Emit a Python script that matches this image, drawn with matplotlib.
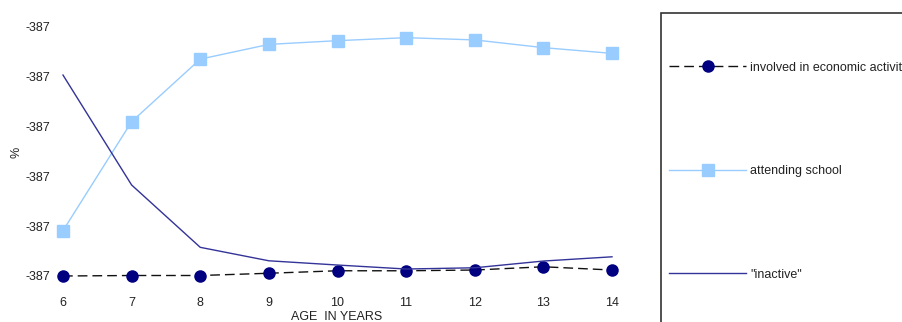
import matplotlib.pyplot as plt
from matplotlib.patches import Rectangle

# dados
idade = [6, 7, 8, 9, 10, 11, 12, 13, 14]
economica = [0.0, 0.2, 0.2, 1.1, 2.1, 2.1, 2.4, 3.7, 2.4]
escola = [18.2, 61.9, 87.0, 92.9, 94.4, 95.6, 94.7, 91.6, 89.3]
inativo = [80.6, 36.5, 11.5, 6.1, 4.4, 2.8, 3.3, 6.0, 7.7]

nomes = ["involved in economic activity", "attending school", '"inactive"']
y_ticks = [0, 20, 40, 60, 80, 100]
y_rotulos = ["-387"] * len(y_ticks)

plt.rcParams['font.family'] = ['Liberation Sans', 'DejaVu Sans']
plt.rcParams['font.size'] = 9

fig = plt.figure(figsize=(9.03, 3.22), dpi=100)
W, H = 903.0, 322.0

# área do gráfico: x=6 em 63px, x=14 em 612px; y=0 em 276px, y=100 em 26.7px
ax = fig.add_axes([63 / W, 1 - 276 / H, (612 - 63) / W, (276 - 26.7) / H])

l1, = ax.plot(idade, economica, color='#111111', ls=(0, (7, 3.6)), lw=1,
              marker='o', ms=8, mfc='#000080', mec='#000080', clip_on=False)
l2, = ax.plot(idade, escola, color='#99CCFF', lw=1,
              marker='s', ms=8, mfc='#99CCFF', mec='#99CCFF', clip_on=False)
l3, = ax.plot(idade, inativo, color='#333399', lw=1, clip_on=False)

ax.set_xlim(6, 14)
ax.set_ylim(0, 100)
ax.set_xticks(idade)
ax.set_yticks(y_ticks)
ax.set_yticklabels(y_rotulos)
ax.tick_params(length=0, colors='#222222')
ax.tick_params(axis='x', pad=15)
ax.tick_params(axis='y', pad=9)
for s in ax.spines.values():
    s.set_visible(False)

fig.text(17 / W, 1 - 152 / H, "%", rotation=90, ha='center', va='center',
         color='#222222')
fig.text(337 / W, 1 - 317.5 / H, "AGE  IN YEARS", ha='center', va='center',
         color='#222222')

# caixa da legenda (passa da borda da figura)
fig.patches.append(Rectangle((661 / W, -0.1), 0.5, 1 - 13 / H + 0.1,
                             transform=fig.transFigure, fill=False,
                             ec='#333333', lw=1.2))

leg = fig.legend([l1, l2, l3], nomes, loc='upper left',
                 bbox_to_anchor=(669 / W, 1 - 61.5 / H), frameon=False,
                 numpoints=1, handlelength=6.2, handletextpad=0.32,
                 labelspacing=7.32, borderaxespad=0, borderpad=0)
for t in leg.get_texts():
    t.set_color('#222222')

fig.savefig("out.png", dpi=100)
